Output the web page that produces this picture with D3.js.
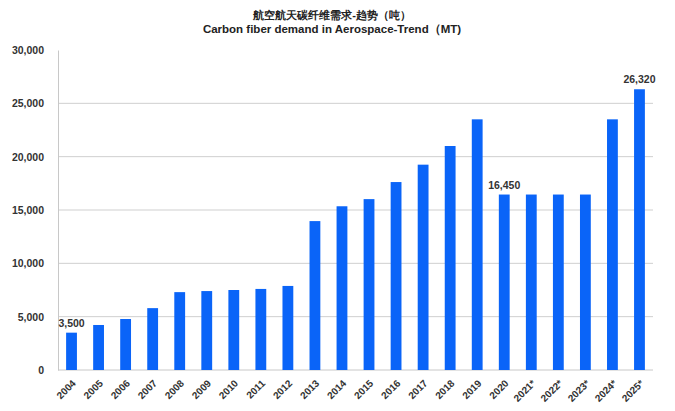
<!DOCTYPE html>
<html>
<head>
<meta charset="utf-8">
<script src="https://cdn.jsdelivr.net/npm/d3@7"></script>
<style>
  html, body { margin: 0; padding: 0; background: #fff; }
  svg { display: block; }
  text { font-family: "Liberation Sans", Arial, sans-serif; }
</style>
</head>
<body>
<svg id="chart" width="675" height="411"></svg>
<script>
// Carbon fiber demand in aerospace, metric tons per year
const years = ["2004","2005","2006","2007","2008","2009","2010","2011","2012","2013","2014",
               "2015","2016","2017","2018","2019","2020","2021*","2022*","2023*","2024*","2025*"];
const demand = [3500, 4220, 4780, 5800, 7300, 7400, 7500, 7600, 7880, 13960, 15350,
                16020, 17620, 19250, 21000, 23500, 16450, 16450, 16450, 16450, 23500, 26320];
const labelledYears = ["2004", "2020", "2025*"];
const yTicks = [0, 5000, 10000, 15000, 20000, 25000, 30000];
const titleZh = "航空航天碳纤维需求-趋势（吨）";
const titleEn = "Carbon fiber demand in Aerospace-Trend（MT)";

const svg = d3.select("#chart");
const m = { left: 58, right: 22, top: 50, bottom: 41 };
const W = 675, H = 411;

const x = d3.scaleBand().domain(years).range([m.left, W - m.right]).paddingInner(0.6).paddingOuter(0.3);
const y = d3.scaleLinear().domain([0, 30000]).range([H - m.bottom, m.top]);
const fmt = d3.format(",");

// gridlines
svg.append("g").selectAll("line")
  .data(yTicks.filter(t => t > 0 && t < 30000))
  .join("line")
  .attr("x1", m.left).attr("x2", W - m.right)
  .attr("y1", d => y(d)).attr("y2", d => y(d))
  .attr("stroke", "#cfcfcf").attr("stroke-width", 1);

// y axis
const yAxis = svg.append("g")
  .attr("transform", `translate(${m.left},0)`)
  .call(d3.axisLeft(y).tickValues(yTicks).tickFormat(fmt).tickSize(0).tickPadding(14));
yAxis.select(".domain").attr("stroke", "#c8c8c8");
yAxis.selectAll("text")
  .attr("font-size", 10.5).attr("font-weight", "bold").attr("fill", "#333");

// baseline
svg.append("line")
  .attr("x1", m.left).attr("x2", W - m.right)
  .attr("y1", y(0)).attr("y2", y(0))
  .attr("stroke", "#c8c8c8");

// bars
svg.append("g").selectAll("rect")
  .data(years.map((yr, i) => ({ yr, v: demand[i] })))
  .join("rect")
  .attr("x", d => x(d.yr))
  .attr("width", x.bandwidth())
  .attr("y", d => y(d.v))
  .attr("height", d => y(0) - y(d.v))
  .attr("fill", "#0a64f8");

// value labels
svg.append("g").selectAll("text")
  .data(years.map((yr, i) => ({ yr, v: demand[i] })).filter(d => labelledYears.includes(d.yr)))
  .join("text")
  .attr("x", d => x(d.yr) + x.bandwidth() / 2)
  .attr("y", d => y(d.v) - 6)
  .attr("text-anchor", "middle")
  .attr("font-size", 10.5).attr("font-weight", "bold").attr("fill", "#333")
  .text(d => fmt(d.v));

// x axis labels
const xAxis = svg.append("g")
  .attr("transform", `translate(0,${y(0)})`)
  .call(d3.axisBottom(x).tickSize(0).tickPadding(0));
xAxis.select(".domain").remove();
xAxis.selectAll("text")
  .attr("font-size", 10).attr("font-weight", "bold").attr("fill", "#333")
  .attr("text-anchor", "end")
  .attr("dy", 0)
  .attr("transform", "translate(5,14) rotate(-45)");

// titles
svg.append("text")
  .attr("x", 332).attr("y", 19)
  .attr("text-anchor", "middle")
  .attr("font-family", "'Noto Sans CJK SC', sans-serif")
  .attr("font-size", 11).attr("font-weight", "bold").attr("fill", "#222")
  .text(titleZh);
svg.append("text")
  .attr("x", 332).attr("y", 33)
  .attr("text-anchor", "middle")
  .attr("font-size", 11.5).attr("font-weight", "bold").attr("fill", "#222")
  .text(titleEn);
</script>
</body>
</html>
